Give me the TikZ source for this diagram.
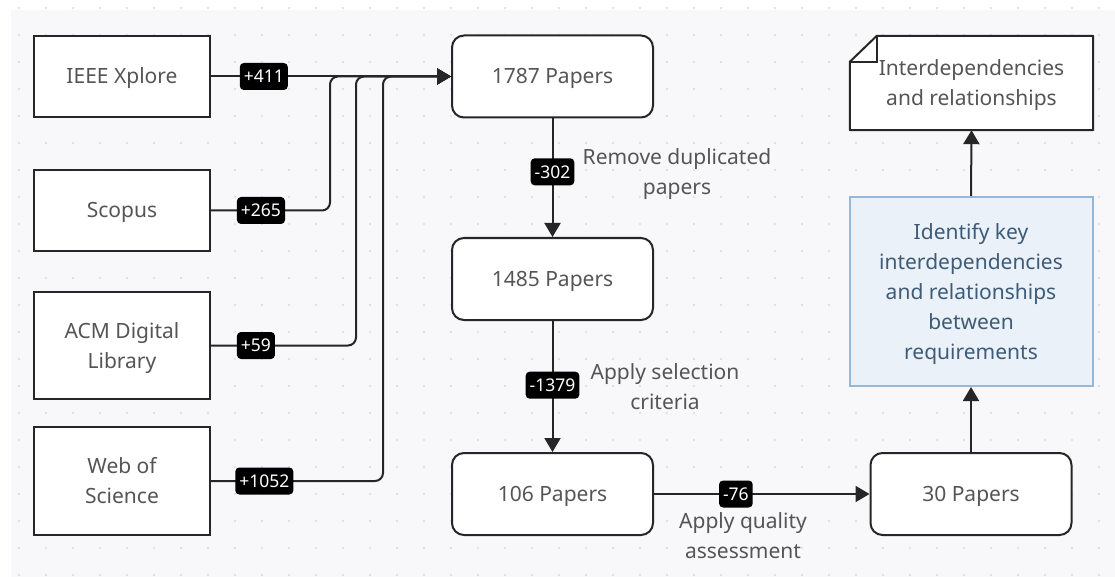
\documentclass[tikz,border=0pt]{standalone}
\usepackage{fontspec}
\setmainfont{Noto Sans}
\usetikzlibrary{arrows.meta}
\definecolor{bgc}{HTML}{F8F8FA}
\definecolor{dotc}{HTML}{DADADF}
\definecolor{linec}{HTML}{262626}
\definecolor{txt}{HTML}{555555}
\definecolor{bluefill}{HTML}{EAF1F8}
\definecolor{blueline}{HTML}{93B8DA}
\definecolor{bluetxt}{HTML}{3E5B78}
\newcommand\ST{\rule[-7.5pt]{0pt}{30pt}}
\pgfdeclarelayer{bg}\pgfdeclarelayer{mid}\pgfsetlayers{bg,mid,main}
\begin{document}
\begin{tikzpicture}[x=1pt,y=-1pt,
 box/.style={draw=linec, line width=2pt, fill=white, text=txt, font=\fontsize{21}{30}\selectfont, align=center, inner sep=0pt},
 src/.style={box, minimum width=176pt},
 rbox/.style={box, rounded corners=12pt, minimum width=201pt, minimum height=82pt},
 conn/.style={draw=linec, line width=2pt, rounded corners=8pt, -{Triangle[length=14pt,width=16pt]}},
 lbl/.style={fill=black, text=white, rounded corners=4pt, font=\fontsize{17.5}{20}\selectfont, inner xsep=4pt, inner ysep=0pt, text height=12.5pt, text depth=0pt, minimum height=27pt},
 etxt/.style={text=txt, font=\fontsize{21}{30}\selectfont, align=center, inner sep=0pt}]
\useasboundingbox (0,0) rectangle (1115,577);
\begin{pgfonlayer}{bg}
\fill[bgc] (11,10) rectangle (1115,577);
\foreach \i in {0,...,40} {\foreach \j in {0,...,21} {\fill[dotc] ({19+27*\i},{8+27*\j}) circle (1.1pt);}}
\end{pgfonlayer}

% sources
\node[src, minimum height=81pt] (ieee) at (122,76.5) {\ST IEEE Xplore};
\node[src, minimum height=81pt] (scopus) at (122,210.5) {\ST Scopus};
\node[src, minimum height=107pt] (acm) at (122,345.5) {\ST ACM Digital\\\ST Library};
\node[src, minimum height=108pt] (wos) at (122,481) {\ST Web of\\\ST Science};

% pipeline
\node[rbox] (p1787) at (552.5,76.5) {\ST 1787 Papers};
\node[rbox] (p1485) at (552.5,279) {\ST 1485 Papers};
\node[rbox] (p106) at (552.5,494) {\ST 106 Papers};
\node[rbox] (p30) at (971,494) {\ST 30 Papers};
\node[box, draw=blueline, fill=bluefill, text=bluetxt, minimum width=243pt, minimum height=189pt] (ident) at (971,291.5) {\ST Identify key\\\ST interdependencies\\\ST and relationships\\\ST between\\\ST requirements};
\node[text=txt, font=\fontsize{21}{30}\selectfont, align=center, inner sep=0pt, minimum width=243pt, minimum height=94pt] (doc) at (971.5,83) {\ST Interdependencies\\\ST and relationships};
\begin{pgfonlayer}{mid}
\draw[draw=linec, line width=2pt, fill=white, line join=round] ([yshift=-26pt]doc.north west) -- ([xshift=27pt]doc.north west) -- (doc.north east) -- (doc.south east) -- (doc.south west) -- cycle;
\draw[draw=linec, line width=2pt] ([yshift=-26pt]doc.north west) -| ([xshift=27pt]doc.north west);
\end{pgfonlayer}

% connectors from sources
\draw[conn] (ieee.east) -- node[lbl,pos=0.22]{+411} (p1787.west);
\draw[conn] (scopus.east) -- node[lbl,pos=0.42]{+265} (330,210.5) |- (p1787.west);
\draw[conn] (acm.east) -- node[lbl,pos=0.31]{+59} (356,345.5) |- (p1787.west);
\draw[conn] (wos.east) -- node[lbl,pos=0.31]{+1052} (383,481) |- (p1787.west);

% pipeline connectors
\draw[conn] (p1787.south) -- node[lbl,pos=0.45]{-302} (p1485.north);
\draw[conn] (p1485.south) -- node[lbl,pos=0.49]{-1379} (p106.north);
\draw[conn] (p106.east) -- node[lbl,pos=0.38]{-76} (p30.west);
\draw[conn] (p30.north) -- (ident.south);
\draw[conn] (ident.north) -- (doc.south);

\node[etxt] (t1) at (677,172) {\ST Remove duplicated\\\ST papers};
\node[etxt] (t2) at (665,387) {\ST Apply selection\\\ST criteria};
\node[etxt] (t3) at (743,536) {\ST Apply quality\\\ST assessment};
\end{tikzpicture}
\end{document}
